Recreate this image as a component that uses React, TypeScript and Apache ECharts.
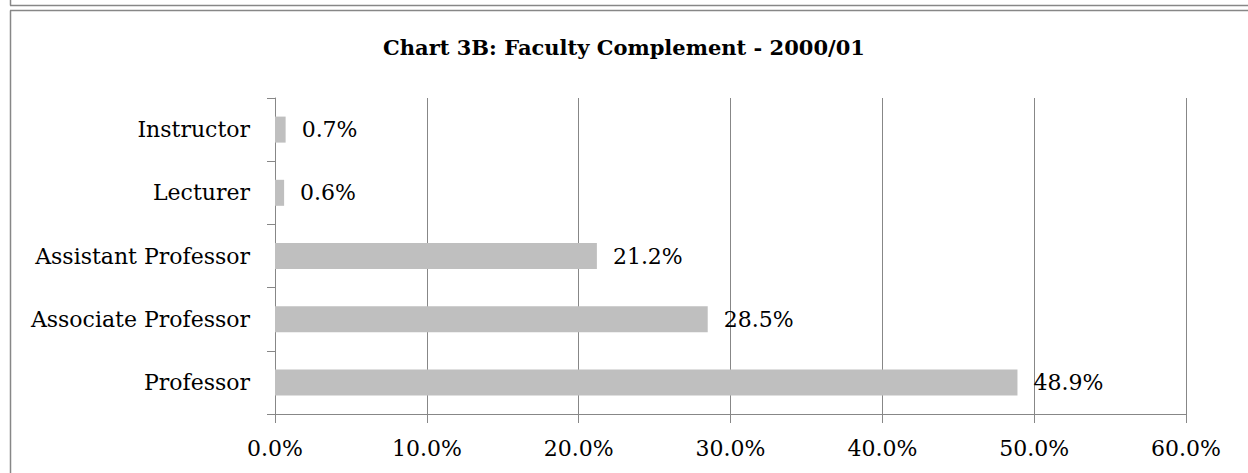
import React, { useEffect, useRef } from "react";
import * as echarts from "echarts";

const categories = ["Professor", "Associate Professor", "Assistant Professor", "Lecturer", "Instructor"];
const values = [48.9, 28.5, 21.2, 0.6, 0.7];
const titleText = "Chart 3B: Faculty Complement - 2000/01";
const xTicks = { min: 0, max: 60, interval: 10 };

export default function App() {
  const ref = useRef<HTMLDivElement>(null);
  useEffect(() => {
    if (!ref.current) return;
    const chart = echarts.init(ref.current, null, { renderer: "svg" });
    const gray = "#878787";
    const font = "DejaVu Serif";
    chart.setOption({
      animation: false,
      backgroundColor: "#ffffff",
      title: {
        text: titleText,
        left: "center",
        top: 32,
        textStyle: { fontFamily: font, fontWeight: "bold", fontSize: 21, color: "#000" },
      },
      grid: { left: 275, right: 62, top: 98, bottom: 59, containLabel: false },
      xAxis: {
        type: "value",
        min: xTicks.min,
        max: xTicks.max,
        interval: xTicks.interval,
        axisLine: { show: true, lineStyle: { color: gray, width: 1 } },
        axisTick: { show: true, length: 9, lineStyle: { color: gray } },
        splitLine: { show: true, lineStyle: { color: gray, width: 1 } },
        axisLabel: {
          margin: 23,
          fontFamily: font,
          fontSize: 22,
          color: "#000",
          formatter: (v: number) => v.toFixed(1) + "%",
        },
      },
      yAxis: {
        type: "category",
        data: categories,
        axisLine: { show: true, lineStyle: { color: gray, width: 1 } },
        axisTick: { show: true, length: 8, lineStyle: { color: gray } },
        axisLabel: { margin: 25, fontFamily: font, fontSize: 22, color: "#000" },
      },
      series: [
        {
          type: "bar",
          data: values,
          barWidth: 26,
          itemStyle: { color: "#bfbfbf" },
          label: {
            show: true,
            position: "right",
            distance: 16,
            fontFamily: font,
            fontSize: 22,
            color: "#000",
            formatter: (p: any) => Number(p.value).toFixed(1) + "%",
          },
        },
      ],
      graphic: [
        { type: "line", silent: true, shape: { x1: 10, y1: 5.5, x2: 1248, y2: 5.5 }, style: { stroke: gray, lineWidth: 1.5 } },
        { type: "line", silent: true, shape: { x1: 10.5, y1: 0, x2: 10.5, y2: 5.5 }, style: { stroke: gray, lineWidth: 1.5 } },
        { type: "line", silent: true, shape: { x1: 10, y1: 10.5, x2: 1248, y2: 10.5 }, style: { stroke: gray, lineWidth: 1.5 } },
        { type: "line", silent: true, shape: { x1: 10.5, y1: 10.5, x2: 10.5, y2: 473 }, style: { stroke: gray, lineWidth: 1.5 } },
      ],
    });
    return () => chart.dispose();
  }, []);
  return (
    <div
      ref={ref}
      style={{ position: "fixed", left: 0, top: 0, width: 1248, height: 473, background: "#fff" }}
    />
  );
}
